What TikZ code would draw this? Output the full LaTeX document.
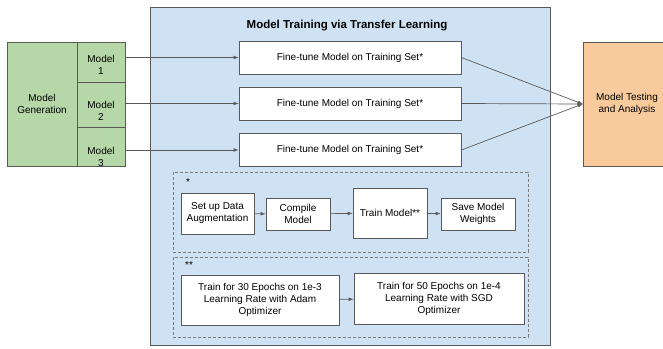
\documentclass[tikz,border=0pt]{standalone}
\usepackage{fontspec}
\setmainfont{Liberation Sans}
\usetikzlibrary{positioning}

\definecolor{edge}{HTML}{595959}
\definecolor{genfill}{HTML}{B6D7A8}
\definecolor{trainfill}{HTML}{CFE2F3}
\definecolor{testfill}{HTML}{F9CB9C}

\begin{document}
\begin{tikzpicture}[x=1pt, y=-1pt,
    font=\fontsize{10}{12}\selectfont,
    every node/.append style={inner sep=0pt, align=center},
    cell/.style={draw=edge, line width=0.8pt, fill=genfill},
    box/.style={draw=edge, line width=0.8pt, fill=white},
    group/.style={draw=edge!80, line width=0.7pt, dash pattern=on 3pt off 2pt},
    link/.style={->, >=latex, draw=edge, line width=0.7pt}]

\clip (0,0) rectangle (663,348);

\node[cell, minimum width=70pt, minimum height=124pt] (gen) at (42,104) {Model\\Generation};
\node[cell, minimum width=48pt, minimum height=40pt] (cell1) at (101,62) {};
\node[cell, minimum width=48pt, minimum height=45pt] (cell2) at (101,104.5) {};
\node[cell, minimum width=48pt, minimum height=39pt] (cell3) at (101,146.5) {};
\node (mod1) at (101,65) {Model\\1};
\node (mod2) at (101,111) {Model\\2};
\node (mod3) at (101,157) {Model\\3};

\node[draw=edge, line width=0.8pt, fill=trainfill, minimum width=400pt, minimum height=338pt] (train) at (350,176) {};
\node[font=\bfseries\fontsize{11.5}{13}\selectfont] (title) at (347,26) {Model Training via Transfer Learning};

\node[box, minimum width=222pt, minimum height=33pt] (ft1) at (350,57.5) {Fine-tune Model on Training Set*};
\node[box, minimum width=222pt, minimum height=33pt] (ft2) at (350,103.5) {Fine-tune Model on Training Set*};
\node[box, minimum width=222pt, minimum height=33pt] (ft3) at (350,150) {Fine-tune Model on Training Set*};

\node[draw=edge, line width=0.8pt, fill=testfill, minimum width=88pt, minimum height=124pt] (test) at (627,104) {Model Testing\\and Analysis};

\foreach \i in {1,2,3} {
    \draw[link] (cell\i.east |- ft\i.west) -- (ft\i.west);
    \draw[link] (ft\i.east) -- (test.west);
}

\node[group, minimum width=355pt, minimum height=80pt] (stepgrp) at (350.5,212) {};
\node (star1) at (188,182) {*};
\node[box, minimum width=73pt, minimum height=41pt] (augment) at (217.5,213.5) {Set up Data\\Augmentation};
\node[box, minimum width=64pt, minimum height=32pt] (compile) at (298,214) {Compile\\Model};
\node[box, minimum width=74pt, minimum height=50pt] (fit) at (390,213) {Train Model**};
\node[box, minimum width=74pt, minimum height=32pt] (save) at (478,214) {Save Model\\Weights};
\draw[link] (augment) -- (compile);
\draw[link] (compile) -- (fit);
\draw[link] (fit) -- (save);

\node[group, minimum width=355pt, minimum height=80pt] (epochgrp) at (350.5,297) {};
\node (star2) at (189,265) {**};
\node[box, minimum width=158pt, minimum height=50pt] (adam) at (260,300) {Train for 30 Epochs on 1e-3\\Learning Rate with Adam\\Optimizer};
\node[box, minimum width=170pt, minimum height=51pt] (sgd) at (439,298.5) {Train for 50 Epochs on 1e-4\\Learning Rate with SGD\\Optimizer};
\draw[link] (adam) -- (sgd);

\end{tikzpicture}
\end{document}
